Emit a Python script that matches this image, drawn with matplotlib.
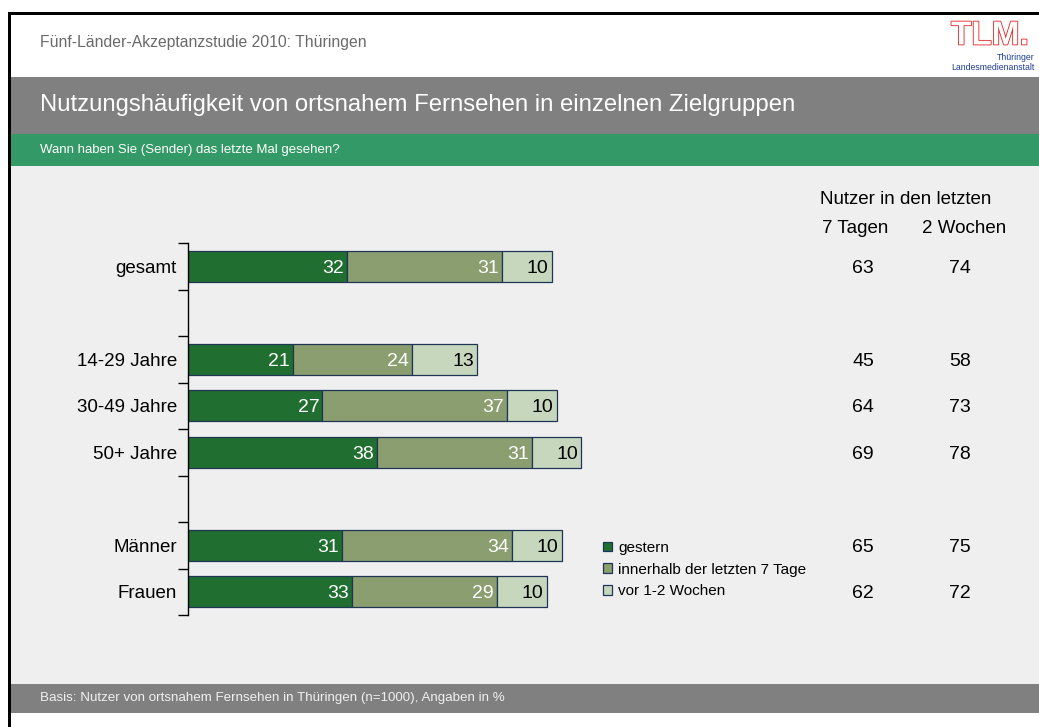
import matplotlib
matplotlib.use("Agg")
import matplotlib.pyplot as plt
from matplotlib.patches import Rectangle
import matplotlib.patheffects as pe
import matplotlib.transforms as mtrans
import numpy as np

plt.rcParams['font.family'] = ['Liberation Sans', 'DejaVu Sans']

# ---- data ----
categories = ["gesamt", "", "14-29 Jahre", "30-49 Jahre", "50+ Jahre", "", "Männer", "Frauen"]
gestern = [32, None, 21, 27, 38, None, 31, 33]
innerhalb7 = [31, None, 24, 37, 31, None, 34, 29]
vor12 = [10, None, 13, 10, 10, None, 10, 10]
nutzer_7tage = [63, None, 45, 64, 69, None, 65, 62]
nutzer_2wochen = [74, None, 58, 73, 78, None, 75, 72]
series_names = ["gestern", "innerhalb der letzten 7 Tage", "vor 1-2 Wochen"]
colors = ["#216F30", "#8A9E70", "#C6D7BE"]
label_colors = ["white", "white", "black"]

W, H = 1039, 727
fig = plt.figure(figsize=(W / 100, H / 100), dpi=100)
fig.patch.set_facecolor("white")


def fx(px):
    return px / W


def fy(py):
    return 1 - py / H


def rect(x0, y0, x1, y1, color):
    fig.patches.append(Rectangle((fx(x0), fy(y1)), fx(x1) - fx(x0), fy(y0) - fy(y1),
                                 transform=fig.transFigure, facecolor=color,
                                 edgecolor="none", zorder=-5))


# background bands
rect(10, 13, W, 77, "white")
rect(10, 77, W, 134, "#808080")
rect(10, 134, W, 166, "#339966")
rect(10, 166, W, 684, "#EFEFEF")
rect(10, 684, W, 713, "#808080")
# black frame lines
rect(8, 12, 11, H, "black")
rect(8, 12, W, 15, "black")

fig.text(fx(40), fy(42), "Fünf-Länder-Akzeptanzstudie 2010: Thüringen", fontsize=11.3,
         color="#6A6A6A", va="center", ha="left")
fig.text(fx(40), fy(105), "Nutzungshäufigkeit von ortsnahem Fernsehen in einzelnen Zielgruppen",
         fontsize=17.2, color="white", va="center", ha="left")
fig.text(fx(40), fy(150), "Wann haben Sie (Sender) das letzte Mal gesehen?", fontsize=9.5,
         color="white", va="center", ha="left")
fig.text(fx(40), fy(698), "Basis: Nutzer von ortsnahem Fernsehen in Thüringen (n=1000), Angaben in %",
         fontsize=9.6, color="#F0F0F0", va="center", ha="left")

# logo
fig.text(fx(990), fy(36), "TLM.", fontsize=24, color="white", va="center", ha="center",
         fontweight="bold",
         path_effects=[pe.withStroke(linewidth=1.2, foreground="#E02020")])
fig.text(fx(1035), fy(58), "Thüringer", fontsize=6.3, color="#1F3F8F", va="center", ha="right")
fig.text(fx(1035), fy(68), "Landesmedienanstalt", fontsize=6.3, color="#1F3F8F", va="center", ha="right")

# chart axes: x from 0 at px 188, 4.98 px per unit; y slots from 243 to 615
ax_left, ax_top, ax_bottom = 188, 243, 615
xmax = 100
ax = fig.add_axes([fx(ax_left), fy(ax_bottom), fx(4.98 * xmax), (ax_bottom - ax_top) / H])
ax.set_zorder(2)
ax.patch.set_visible(False)
ax.set_xlim(0, xmax)
n = len(categories)
ax.set_ylim(n - 0.5, -0.5)

ypos = np.arange(n)
valid = [i for i in range(n) if gestern[i] is not None]
series = [gestern, innerhalb7, vor12]
left = np.zeros(n)
for s, vals in enumerate(series):
    for i in valid:
        v = vals[i]
        ax.barh(ypos[i], v, left=left[i], height=0.67, color=colors[s],
                edgecolor="#1F3556", linewidth=0.9, zorder=2)
        ax.text(left[i] + v - 0.6, ypos[i], str(v), ha="right", va="center_baseline",
                fontsize=14, color=label_colors[s], zorder=3)
        left[i] += v

for sp in ["top", "right", "bottom"]:
    ax.spines[sp].set_visible(False)
ax.spines["left"].set_color("black")
ax.spines["left"].set_linewidth(1.0)
ax.set_xticks([])
ax.set_yticks(ypos)
ax.set_yticklabels(categories, fontsize=13.5)
ax.tick_params(axis="y", which="major", length=0, pad=8)
ax.set_yticks(np.arange(-0.5, n, 1.0), minor=True)
ax.tick_params(axis="y", which="minor", length=7, width=1.0, color="black")

# right columns (x in figure pixels, y in data slots)
col_trans = mtrans.blended_transform_factory(
    mtrans.Affine2D().scale(1.0 / W, 1) + fig.transFigure, ax.transData)
fig.text(fx(906), fy(198), "Nutzer in den letzten", fontsize=13.5, ha="center", va="center_baseline")
fig.text(fx(855), fy(227), "7 Tagen", fontsize=13.5, ha="center", va="center_baseline")
fig.text(fx(964), fy(227), "2 Wochen", fontsize=13.5, ha="center", va="center_baseline")
for i in valid:
    ax.text(863, ypos[i], str(nutzer_7tage[i]), transform=col_trans,
            fontsize=14, ha="center", va="center_baseline", clip_on=False)
    ax.text(960, ypos[i], str(nutzer_2wochen[i]), transform=col_trans,
            fontsize=14, ha="center", va="center_baseline", clip_on=False)

# legend
handles = [Rectangle((0, 0), 1, 1, facecolor=c, edgecolor="#1F3556", linewidth=0.9) for c in colors]
leg = fig.legend(handles, series_names, loc="upper left", bbox_to_anchor=(fx(603), fy(541)),
                 frameon=False, fontsize=11, handlelength=0.6, handleheight=0.6,
                 handletextpad=0.4, labelspacing=0.5, borderaxespad=0, borderpad=0)

fig.savefig("out.png", dpi=100, facecolor="white")
